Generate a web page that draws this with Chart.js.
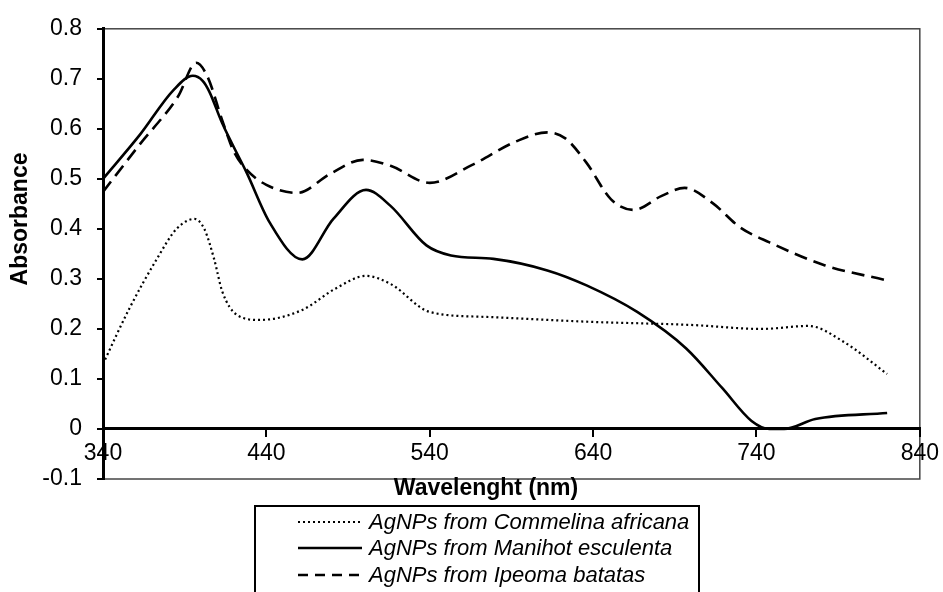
<!DOCTYPE html>
<html>
<head>
<meta charset="utf-8">
<script src="https://cdn.jsdelivr.net/npm/chart.js@4.4.1/dist/chart.umd.min.js"></script>
<style>
  html, body { margin: 0; padding: 0; background: #ffffff; }
  #wrap { position: relative; width: 943px; height: 592px; }
</style>
</head>
<body>
<div id="wrap"><canvas id="c" width="943" height="592"></canvas></div>
<script>
// ---- data ----
const wavelengthTicks = [340, 440, 540, 640, 740, 840];
const absorbanceTicks = [-0.1, 0, 0.1, 0.2, 0.3, 0.4, 0.5, 0.6, 0.7, 0.8];

const seriesNames = [
  'AgNPs from Commelina africana',
  'AgNPs from Manihot esculenta',
  'AgNPs from Ipeoma batatas'
];

const commelinaX = [340, 356, 373, 385, 396, 402, 408, 413, 422, 436, 462, 482, 501, 516, 540, 575, 640, 700, 743, 772, 793, 820];
const commelinaY = [0.13, 0.24, 0.34, 0.40, 0.42, 0.40, 0.34, 0.275, 0.228, 0.218, 0.238, 0.28, 0.306, 0.29, 0.234, 0.224, 0.214, 0.208, 0.20, 0.206, 0.175, 0.11];

const manihotX = [340, 363, 383, 395, 401, 405, 413, 428, 442, 462, 481, 501, 516, 538, 553, 579, 612, 636, 667, 697, 719, 737, 748, 757, 776, 820];
const manihotY = [0.50, 0.59, 0.677, 0.706, 0.696, 0.675, 0.611, 0.512, 0.413, 0.339, 0.42, 0.478, 0.446, 0.367, 0.347, 0.340, 0.317, 0.287, 0.234, 0.161, 0.082, 0.016, 0.0, 0.0, 0.02, 0.032];

const ipeomaX = [340, 363, 386, 397, 404, 413, 420, 428, 440, 459, 479, 499, 516, 540, 566, 593, 612, 623, 636, 651, 665, 682, 696, 713, 730, 748, 782, 820];
const ipeomaY = [0.474, 0.571, 0.665, 0.732, 0.704, 0.617, 0.555, 0.518, 0.488, 0.472, 0.51, 0.538, 0.526, 0.492, 0.528, 0.575, 0.593, 0.581, 0.532, 0.459, 0.438, 0.466, 0.482, 0.452, 0.403, 0.373, 0.327, 0.297];

const xTitle = 'Wavelenght (nm)';
const yTitle = 'Absorbance';

// ---- chart ----
const FONT = "'Liberation Sans', Arial, sans-serif";
const lineStyles = [
  { borderWidth: 2.2, borderDash: [2, 3] },
  { borderWidth: 2.6, borderDash: [] },
  { borderWidth: 2.6, borderDash: [13, 7] }
];
const xs = [commelinaX, manihotX, ipeomaX];
const ys = [commelinaY, manihotY, ipeomaY];

const datasets = seriesNames.map((name, i) => ({
  label: name,
  data: xs[i].map((x, j) => ({ x: x, y: ys[i][j] })),
  borderColor: '#000000',
  borderWidth: lineStyles[i].borderWidth,
  borderDash: lineStyles[i].borderDash,
  pointRadius: 0,
  fill: false,
  cubicInterpolationMode: 'monotone'
}));

const decorPlugin = {
  id: 'decor',
  beforeDraw(chart) {
    const ctx = chart.ctx, a = chart.chartArea;
    ctx.save();
    ctx.fillStyle = '#ffffff';
    ctx.fillRect(0, 0, chart.width, chart.height);
    ctx.strokeStyle = '#444444';
    ctx.lineWidth = 1.5;
    ctx.strokeRect(a.left, a.top, a.right - a.left, a.bottom - a.top);
    ctx.restore();
  },
  afterDraw(chart) {
    const ctx = chart.ctx;
    ctx.save();
    ctx.fillStyle = '#000000';
    // y title
    ctx.font = 'bold 23px ' + FONT;
    ctx.textAlign = 'center';
    ctx.textBaseline = 'middle';
    ctx.save();
    ctx.translate(21, 219);
    ctx.rotate(-Math.PI / 2);
    ctx.fillText(yTitle, 0, 0);
    ctx.restore();
    // x title
    ctx.fillText(xTitle, 486, 489);
    // legend box
    const lx = 255, ly = 506, lw = 444, lh = 110;
    ctx.strokeStyle = '#000000';
    ctx.lineWidth = 2;
    ctx.strokeRect(lx, ly, lw, lh);
    ctx.font = 'italic 22px ' + FONT;
    ctx.textAlign = 'left';
    const rows = [522, 548, 575];
    datasets.forEach((d, i) => {
      ctx.beginPath();
      ctx.lineWidth = d.borderWidth;
      ctx.setLineDash(i === 2 ? [10, 7] : d.borderDash);
      ctx.moveTo(298, rows[i]);
      ctx.lineTo(362, rows[i]);
      ctx.stroke();
      ctx.setLineDash([]);
      ctx.fillText(d.label, 369, rows[i] + 1);
    });
    ctx.restore();
  }
};

new Chart(document.getElementById('c'), {
  type: 'line',
  data: { datasets: datasets },
  plugins: [decorPlugin],
  options: {
    responsive: false,
    animation: false,
    devicePixelRatio: 1,
    layout: { padding: { left: 0, top: 24, right: 23, bottom: 113 } },
    plugins: { legend: { display: false }, tooltip: { enabled: false } },
    scales: {
      x: {
        type: 'linear',
        min: 340,
        max: 840,
        position: { y: 0 },
        afterBuildTicks: (s) => { s.ticks = wavelengthTicks.map(v => ({ value: v })); },
        ticks: {
          color: '#000000',
          font: { family: FONT, size: 23 },
          padding: 4,
          maxRotation: 0,
          autoSkip: false
        },
        grid: { drawOnChartArea: false, drawTicks: true, tickLength: 7, color: '#000000', lineWidth: 2 },
        border: { display: true, color: '#000000', width: 3 }
      },
      y: {
        type: 'linear',
        min: -0.1,
        max: 0.8,
        position: 'left',
        afterBuildTicks: (s) => { s.ticks = absorbanceTicks.map(v => ({ value: v })); },
        afterFit: (s) => { s.width = 103; },
        ticks: {
          color: '#000000',
          font: { family: FONT, size: 23 },
          padding: 15,
          autoSkip: false,
          callback: (v) => (Math.abs(v) < 1e-9 ? '0' : Number(v).toFixed(1))
        },
        grid: { drawOnChartArea: false, drawTicks: true, tickLength: 6, color: '#000000', lineWidth: 2 },
        border: { display: true, color: '#000000', width: 3 }
      }
    }
  }
});
</script>
</body>
</html>
